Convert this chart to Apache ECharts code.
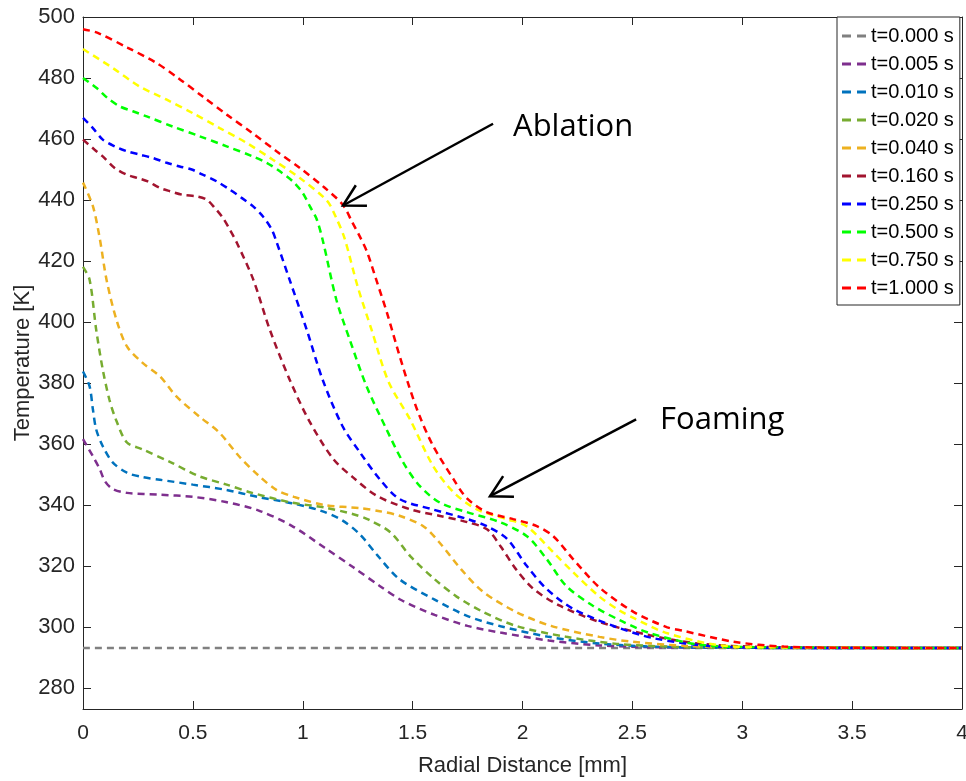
<!DOCTYPE html>
<html>
<head>
<meta charset="utf-8">
<script src="https://cdn.jsdelivr.net/npm/echarts@6/dist/echarts.min.js"></script>
<style>
html,body{margin:0;padding:0;background:#fff;}
#chart{width:966px;height:781px;}
</style>
</head>
<body>
<div id="chart"></div>
<script>
// ---- data ----
const seriesNames = ['t=0.000 s','t=0.005 s','t=0.010 s','t=0.020 s','t=0.040 s','t=0.160 s','t=0.250 s','t=0.500 s','t=0.750 s','t=1.000 s'];
const seriesColors = ['#808080','#7E2F8E','#0072BD','#77AC30','#EDB120','#A2142F','#0000FF','#00FF00','#FFFF00','#FF0000'];

const t0000 = [[0,293.15],[4,293.15]];
const t0005 = [[0,361.6],[0.045,356],[0.076,351.8],[0.1,347.8],[0.135,345.3],[0.2,344],[0.35,343.4],[0.5,342.7],[0.65,341],[0.8,338.2],[0.95,333.2],[1.1,326],[1.23,319.6],[1.35,313.5],[1.45,308.8],[1.6,304],[1.75,300.4],[1.9,298.2],[2.12,295.6],[2.35,294],[2.6,293.4],[3,293.2],[4,293.15]];
const t0010 = [[0,383.8],[0.03,378.9],[0.045,371.4],[0.06,364.8],[0.09,359.3],[0.135,354],[0.2,350.6],[0.27,349.2],[0.35,348.3],[0.5,346.7],[0.65,345],[0.8,342.6],[0.95,340.6],[1.08,338.2],[1.18,335],[1.26,330.4],[1.34,323.5],[1.44,315.7],[1.6,309],[1.75,303.6],[1.9,300.3],[2.12,296.8],[2.35,294.6],[2.6,293.6],[3,293.2],[4,293.15]];
const t0020 = [[0,418.1],[0.03,413.9],[0.06,397.5],[0.09,384.4],[0.12,374.6],[0.15,368],[0.2,360.5],[0.27,358.3],[0.4,354],[0.53,349.4],[0.65,346.8],[0.77,344],[0.95,340.8],[1.1,339.2],[1.23,337],[1.3,335.2],[1.4,331],[1.49,323.2],[1.6,315.7],[1.7,310],[1.82,305],[1.97,300.4],[2.2,296.8],[2.43,294.5],[2.7,293.5],[3,293.2],[4,293.15]];
const t0040 = [[0,445.7],[0.045,438],[0.076,427.5],[0.107,413.9],[0.152,400.8],[0.2,392],[0.27,386.7],[0.35,382.2],[0.425,375.6],[0.53,369],[0.62,363.8],[0.71,356],[0.8,349.6],[0.88,345],[0.96,342.7],[1.1,340],[1.26,339],[1.35,338],[1.44,336.5],[1.55,333],[1.62,327.9],[1.72,319],[1.82,311.6],[1.97,305],[2.13,300.4],[2.35,296.8],[2.5,295.2],[2.75,293.8],[3,293.3],[4,293.15]];
const t0160 = [[0,459.8],[0.053,456.5],[0.09,454.3],[0.144,450.5],[0.199,448.3],[0.249,447.2],[0.295,446.1],[0.349,444],[0.395,442.9],[0.454,441.7],[0.518,441.2],[0.563,440.1],[0.6,437.4],[0.636,434.2],[0.668,430.3],[0.7,426],[0.775,413.9],[0.85,397.5],[0.94,381.2],[1.03,367.5],[1.14,355],[1.23,349],[1.34,342.9],[1.49,338.6],[1.62,336.5],[1.75,334.4],[1.84,332],[1.9,326.5],[1.97,319],[2.05,312.5],[2.17,307],[2.35,301.7],[2.58,297.3],[2.8,294.6],[3.1,293.5],[4,293.15]];
const t0250 = [[0,466.9],[0.045,463.6],[0.09,459.8],[0.144,457.6],[0.199,456],[0.258,454.9],[0.317,453.8],[0.381,452.2],[0.44,451],[0.495,450],[0.545,448.3],[0.609,446.1],[0.668,443.4],[0.722,440.7],[0.773,438],[0.818,434.7],[0.859,430.3],[0.882,426],[0.94,413.9],[1.018,397.5],[1.09,381.2],[1.18,366],[1.26,357.3],[1.35,348.5],[1.44,342],[1.59,338.6],[1.75,335.4],[1.84,333],[1.93,328.9],[2.02,320],[2.11,312.5],[2.23,306],[2.42,300.2],[2.6,296.3],[2.88,293.6],[3.2,293.2],[4,293.15]];
const t0500 = [[0,480],[0.062,476.7],[0.112,473.4],[0.167,470.7],[0.227,469.1],[0.29,467.4],[0.408,464.1],[0.531,460.9],[0.654,457.6],[0.773,454.3],[0.836,452.2],[0.896,449.4],[0.955,446.1],[1.0,442.3],[1.032,438],[1.064,433.6],[1.092,426.5],[1.153,407.3],[1.214,394.2],[1.29,379],[1.38,365],[1.457,354],[1.533,346.2],[1.624,340.8],[1.746,337.7],[1.897,334.4],[2.02,329.8],[2.11,322.3],[2.2,313.4],[2.32,307],[2.45,302],[2.58,298],[2.81,294.2],[3.1,293.4],[4,293.15]];
const t0750 = [[0,489.5],[0.135,483.3],[0.258,477.2],[0.381,472.9],[0.499,468.5],[0.622,463.6],[0.745,458.7],[0.864,453.2],[0.987,447.2],[1.11,439.8],[1.15,434.5],[1.19,427.5],[1.25,411.6],[1.313,397.5],[1.39,380.5],[1.488,368.1],[1.594,352.7],[1.686,344.2],[1.792,338.6],[1.928,335.4],[2.02,333],[2.14,324.5],[2.23,318],[2.35,310],[2.44,305.5],[2.505,303],[2.65,298.2],[2.88,294.2],[3.1,293.4],[4,293.15]];
const t1000 = [[0,496],[0.067,494.8],[0.204,489.9],[0.326,485.3],[0.431,480.1],[0.545,473.9],[0.654,468],[0.768,462.1],[0.882,455.9],[0.987,450.5],[1.1,444],[1.183,438.4],[1.224,432.9],[1.26,428],[1.292,423.1],[1.337,413.3],[1.383,403.1],[1.428,392],[1.478,380.2],[1.53,369.5],[1.594,359.3],[1.686,348.5],[1.746,342.3],[1.837,337.7],[1.958,335.4],[2.065,333.1],[2.14,329.8],[2.23,322.3],[2.353,312.8],[2.505,305],[2.656,300],[2.73,298.8],[2.96,295.2],[3.19,293.6],[3.5,293.2],[4,293.15]];
const seriesData = [t0000,t0005,t0010,t0020,t0040,t0160,t0250,t0500,t0750,t1000];

const xTicks = [0,0.5,1,1.5,2,2.5,3,3.5,4];
const yTicks = [280,300,320,340,360,380,400,420,440,460,480,500];

const annotTexts = ['Ablation','Foaming'];
const annotTextPos = [[1.957,464.0],[2.626,367.8]];
const arrowStart = [[1.866,465.0],[2.517,368.1]];
const arrowTip = [[1.183,438.2],[1.852,342.9]];

// ---- chart ----
const chart = echarts.init(document.getElementById('chart'), null, {renderer:'canvas'});
const AX = '#262626';
const FONT = 'Liberation Sans, Arial, sans-serif';

function xAxisCfg(pos, labels) {
  return {
    type:'value', position:pos, min:xTicks[0], max:xTicks[xTicks.length-1], interval:0.5,
    axisLine:{show:true, onZero:false, lineStyle:{color:AX, width:1}},
    axisTick:{show:true, inside:true, length:8, lineStyle:{color:AX}},
    axisLabel:{show:labels, color:AX, fontSize:21, fontFamily:FONT, margin:14},
    splitLine:{show:false},
    name: labels ? 'Radial Distance [mm]' : '',
    nameLocation:'middle', nameGap:46, nameMoveOverlap:false,
    nameTextStyle:{color:AX, fontSize:22, fontFamily:FONT}
  };
}
function yAxisCfg(pos, labels) {
  return {
    type:'value', position:pos, min:273.15, max:500,
    axisLine:{show:true, onZero:false, lineStyle:{color:AX, width:1}},
    axisTick:{show:true, inside:true, length:8, lineStyle:{color:AX}, customValues:yTicks},
    axisLabel:{show:labels, color:AX, fontSize:22, fontFamily:FONT, margin:8, customValues:yTicks},
    splitLine:{show:false},
    name: labels ? 'Temperature [K]' : '',
    nameLocation:'middle', nameGap:49, nameMoveOverlap:false,
    nameTextStyle:{color:AX, fontSize:22, fontFamily:FONT}
  };
}

const option = {
  animation:false,
  backgroundColor:'#fff',
  grid:{left:83, right:4, top:17, bottom:72, containLabel:false, outerBoundsMode:'none'},
  xAxis:[xAxisCfg('bottom', true), xAxisCfg('top', false)],
  yAxis:[yAxisCfg('left', true), yAxisCfg('right', false)],
  legend:{
    orient:'vertical', left:837, top:17,
    padding:[9,6,7,5],
    itemWidth:24, itemHeight:3, itemGap:8,
    icon:'path://M0,0h9v3h-9z M15,0h9v3h-9z',
    borderColor:AX, borderWidth:1, backgroundColor:'#fff',
    textStyle:{color:'#000', fontSize:20, fontFamily:FONT},
    data: seriesNames
  },
  series: seriesNames.map((n,i)=>({
    name:n, type:'line', data:seriesData[i], xAxisIndex:0, yAxisIndex:0,
    showSymbol:false, symbol:'none',
    smooth:0.3,
    color:seriesColors[i],
    itemStyle:{color:seriesColors[i]},
    lineStyle:{color:seriesColors[i], width:2.5, type:[7,5]},
    z: 2 + i
  }))
};
chart.setOption(option);

// annotations (arrows + texts), positioned through the chart's own scales
const graphics = [];
for (let k=0;k<annotTexts.length;k++) {
  const s = chart.convertToPixel({gridIndex:0}, arrowStart[k]);
  const t = chart.convertToPixel({gridIndex:0}, arrowTip[k]);
  const ang = Math.atan2(s[1]-t[1], s[0]-t[0]);
  const L = 24, da = 29*Math.PI/180;
  const a1 = [t[0]+L*Math.cos(ang+da), t[1]+L*Math.sin(ang+da)];
  const a2 = [t[0]+L*Math.cos(ang-da), t[1]+L*Math.sin(ang-da)];
  graphics.push({type:'line', shape:{x1:s[0],y1:s[1],x2:t[0],y2:t[1]}, style:{stroke:'#000', lineWidth:2.5}, z:100});
  graphics.push({type:'polyline', shape:{points:[a1,t,a2]}, style:{stroke:'#000', lineWidth:2.5, fill:null}, z:100});
  const p = chart.convertToPixel({gridIndex:0}, annotTextPos[k]);
  graphics.push({type:'text', x:p[0], y:p[1], z:100,
    style:{text:annotTexts[k], fill:'#000', font:'31px "Open Sans", "Noto Sans", sans-serif', align:'left', verticalAlign:'middle'}});
}
chart.setOption({graphic:graphics});
</script>
</body>
</html>
